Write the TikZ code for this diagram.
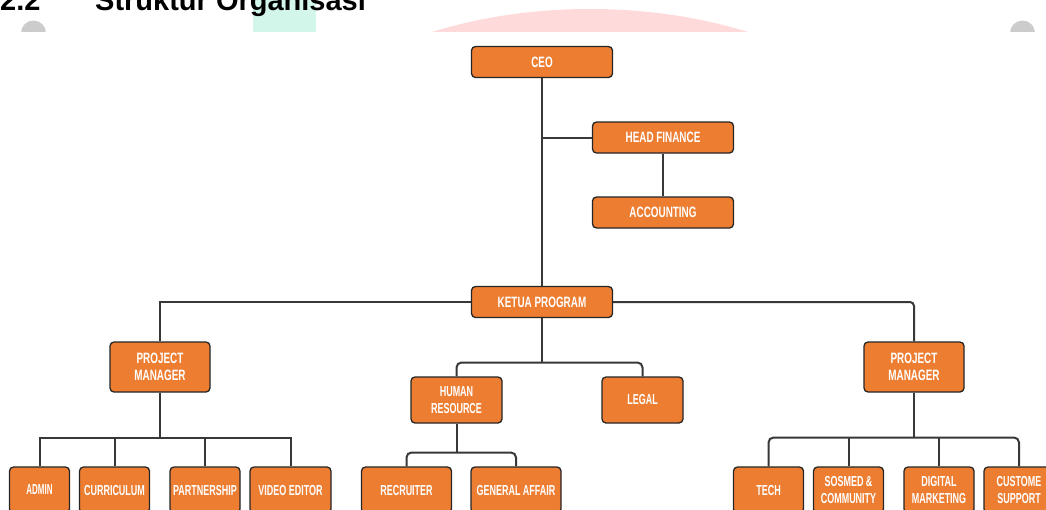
\documentclass[tikz,border=0pt]{standalone}
\usepackage{fontspec}
\setmainfont{Liberation Sans}
\newfontfamily\chartfont[FakeStretch=0.66]{Liberation Sans}
\newfontfamily\chartfontn[FakeStretch=0.62]{Liberation Sans}
\newfontfamily\chartfontx[FakeStretch=0.55]{Liberation Sans}
\definecolor{boxorange}{HTML}{ED7D31}
\definecolor{wmpink}{HTML}{FFDADB}
\definecolor{wmgreen}{HTML}{D2F7EA}
\definecolor{wmgrey}{HTML}{CCCCCC}

\begin{document}
\begin{tikzpicture}[x=1pt, y=-1pt,
  unitbox/.style={draw=black!85, line width=1.3pt, rounded corners=4pt, fill=boxorange,
    text=white, align=center, inner sep=1pt, minimum width=#1,
    font=\chartfont\bfseries\fontsize{15}{17.4}\selectfont},
  wide/.style={unitbox=141pt, minimum height=31pt},
  mid/.style={unitbox=#1, minimum height=50pt},
  leaf/.style={unitbox=#1, minimum height=46pt,
    font=\chartfontn\bfseries\fontsize{14.5}{16.6}\selectfont},
  link/.style={line width=2pt, draw=black!78},
  heading/.style={anchor=base west, inner sep=0pt, font=\bfseries\fontsize{29}{34}\selectfont}
]
\useasboundingbox (0,0) rectangle (1046,509);
\clip (0,0) rectangle (1046,509);

% page behind the chart
\begin{scope}
  \clip (0,0) rectangle (1046,32);
  \fill[wmpink] (590,209) ellipse [x radius=339pt, y radius=200pt];
  \fill[wmgreen] (253,0) rectangle (316,32);
  \fill[wmgrey] (33.5,33) circle [radius=12.5pt];
  \fill[wmgrey] (1022.5,33) circle [radius=12.5pt];
\end{scope}
\node[heading] (num) at (0,10) {2.2};
\node[heading] (title) at (95,10) {Struktur Organisasi};
\fill[white] (0,32) rectangle (1046,509);

% Top
\node[wide] (ceo) at (542,62) {CEO};
\node[wide] (fin) at (663,137.5) {HEAD FINANCE};
\node[wide] (acc) at (663,212.5) {ACCOUNTING};
\node[wide] (ketua) at (542,302) {KETUA PROGRAM};

% Second level
\node[mid=100pt] (pml) at (160,367) {PROJECT\\MANAGER};
\node[mid=100pt] (pmr) at (914,367) {PROJECT\\MANAGER};
\node[leaf=91pt] (hr) at (456.5,400) {HUMAN\\RESOURCE};
\node[leaf=81pt] (legal) at (642.5,400) {LEGAL};

% Bottom row
\node[leaf=60pt, font=\chartfontx\bfseries\fontsize{14.5}{16.6}\selectfont] (admin) at (39.5,490) {ADMIN};
\node[leaf=70pt] (curr) at (114.5,490) {CURRICULUM};
\node[leaf=70pt] (partner) at (205,490) {PARTNERSHIP};
\node[leaf=81pt] (video) at (290.5,490) {VIDEO EDITOR};
\node[leaf=90pt] (recruit) at (406.5,490) {RECRUITER};
\node[leaf=90pt] (ga) at (516,490) {GENERAL AFFAIR};
\node[leaf=70pt] (tech) at (768.5,490) {TECH};
\node[leaf=70pt] (sosmed) at (848.5,490) {SOSMED \&\\COMMUNITY};
\node[leaf=70pt] (digital) at (939,490) {DIGITAL\\MARKETING};
\node[leaf=70pt] (cs) at (1019,490) {CUSTOME\\SUPPORT};

% Branch points
\coordinate (kb) at (542,362.5);
\coordinate (pl) at (160,437.5);
\coordinate (pr) at (914,437.5);
\coordinate (hb) at (456.5,452.5);

% Connectors
\draw[link] (ceo) -- (ketua);
\draw[link] (fin.west) -- (fin.west -| ceo.south);
\draw[link] (fin) -- (acc);
\draw[link] (ketua.west) -| (pml.north);
\draw[link, rounded corners=4pt] (ketua.east) -| (pmr.north);
\draw[link] (ketua.south) -- (kb);
\draw[link, rounded corners=5pt] (hr.north) |- (kb) -| (legal.north);
\draw[link] (pml.south) -- (pl);
\draw[link] (admin.north) |- (pl) -| (video.north);
\draw[link] (curr.north) -- (curr.north |- pl);
\draw[link] (partner.north) -- (partner.north |- pl);
\draw[link] (hr.south) -- (hb);
\draw[link, rounded corners=5pt] (recruit.north) |- (hb) -| (ga.north);
\draw[link] (pmr.south) -- (pr);
\draw[link, rounded corners=5pt] (tech.north) |- (pr) -| (cs.north);
\draw[link] (sosmed.north) -- (sosmed.north |- pr);
\draw[link] (digital.north) -- (digital.north |- pr);

\end{tikzpicture}
\end{document}
